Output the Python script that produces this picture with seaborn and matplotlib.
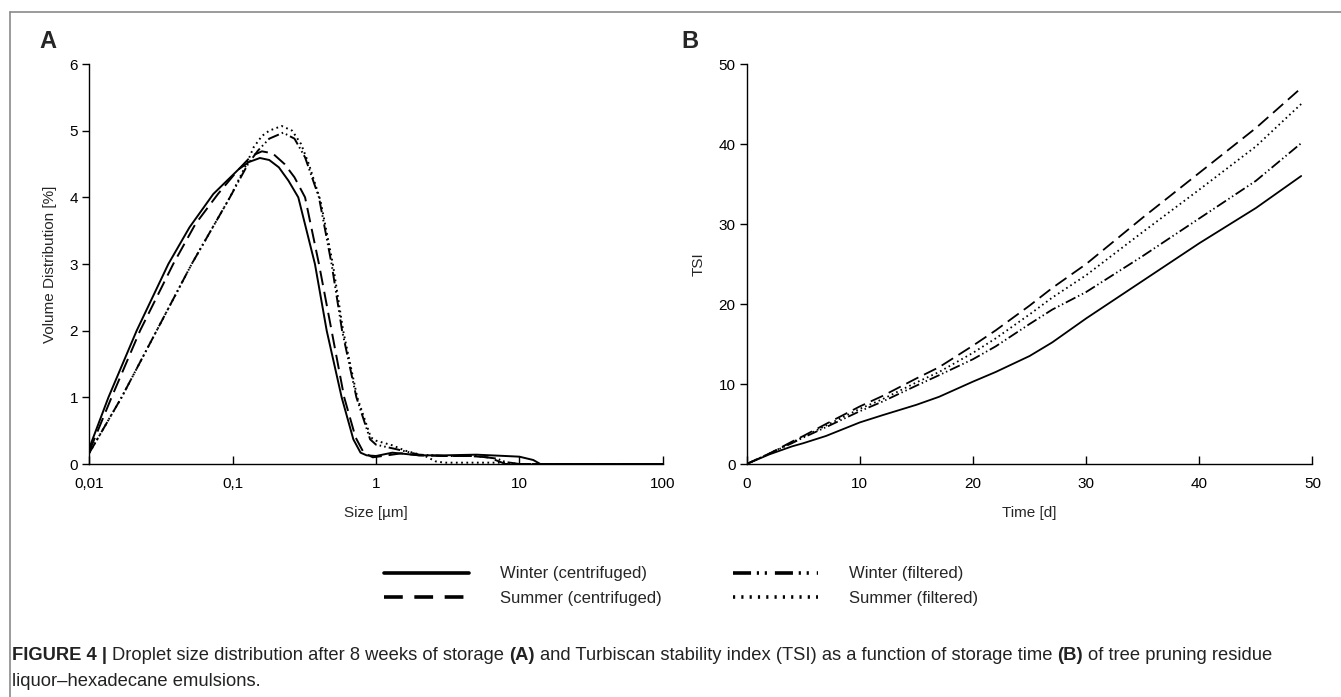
import matplotlib
matplotlib.use("Agg")
import numpy as np
import pandas as pd
import matplotlib.pyplot as plt
import seaborn as sns
from matplotlib.lines import Line2D
from matplotlib.ticker import FixedLocator, FixedFormatter, NullLocator

# ---------------- data ----------------
series_names = ["Winter (centrifuged)", "Summer (centrifuged)",
                "Winter (filtered)", "Summer (filtered)"]

# Panel A: droplet size distribution (x: size in µm, y: volume %)
wc_size = [0.01, 0.0136, 0.0214, 0.0356, 0.05, 0.0733, 0.11, 0.13, 0.155, 0.18, 0.21, 0.245,
           0.287, 0.375, 0.453, 0.576, 0.695, 0.78, 0.86, 1.0, 1.3, 2.0, 3.0, 5.0, 8.0, 10.0,
           12.5, 14.0, 20.0, 100.0]
wc_vol = [0.24, 1.0, 2.0, 3.0, 3.55, 4.05, 4.42, 4.53, 4.59, 4.56, 4.45, 4.25,
          4.0, 3.0, 2.0, 1.0, 0.37, 0.17, 0.13, 0.12, 0.17, 0.13, 0.13, 0.14, 0.12, 0.11,
          0.06, 0.0, 0.0, 0.0]

sc_size = [0.01, 0.0143, 0.0226, 0.0385, 0.055, 0.079, 0.11, 0.135, 0.16, 0.19, 0.23, 0.27,
           0.32, 0.40, 0.49, 0.60, 0.72, 0.82, 0.95, 1.2, 1.5, 2.0, 3.0, 4.5, 6.0, 7.0, 8.0,
           20.0, 100.0]
sc_vol = [0.19, 1.0, 2.0, 3.0, 3.6, 4.05, 4.42, 4.62, 4.69, 4.66, 4.5, 4.3,
          4.0, 3.0, 2.0, 1.0, 0.4, 0.17, 0.1, 0.13, 0.16, 0.13, 0.12, 0.12, 0.1, 0.05, 0.0,
          0.0, 0.0]

wf_size = [0.01, 0.0168, 0.0295, 0.0518, 0.0957, 0.128, 0.15, 0.18, 0.225, 0.27, 0.32, 0.40,
           0.49, 0.58, 0.73, 0.91, 1.0, 1.4, 2.0, 3.0, 5.0, 7.0, 8.0, 10.0, 20.0, 100.0]
wf_vol = [0.165, 1.0, 2.0, 3.0, 4.0, 4.5, 4.7, 4.88, 4.97, 4.88, 4.6, 4.0,
          3.0, 2.0, 1.0, 0.37, 0.29, 0.22, 0.14, 0.12, 0.12, 0.08, 0.03, 0.0, 0.0, 0.0]

sf_size = [0.01, 0.0168, 0.0295, 0.0518, 0.0957, 0.125, 0.14, 0.16, 0.18, 0.22, 0.26, 0.30,
           0.34, 0.41, 0.50, 0.59, 0.74, 0.92, 1.0, 1.3, 1.6, 2.2, 2.6, 3.0, 8.0, 10.0,
           20.0, 100.0]
sf_vol = [0.165, 1.0, 2.0, 3.0, 4.0, 4.5, 4.75, 4.92, 5.0, 5.07, 5.0, 4.8,
          4.5, 3.95, 3.0, 2.0, 1.0, 0.4, 0.35, 0.28, 0.2, 0.12, 0.04, 0.02, 0.02, 0.0,
          0.0, 0.0]

size_ticks = [0.01, 0.1, 1, 10, 100]
size_tick_labels = ["0,01", "0,1", "1", "10", "100"]
vol_ticks = [0, 1, 2, 3, 4, 5, 6]

# Panel B: TSI vs time
time_days = [0, 2, 4, 5, 7, 10, 12, 15, 17, 20, 22, 25, 27, 30, 35, 40, 45, 49]
tsi_wc = [0, 1.2, 2.2, 2.6, 3.5, 5.2, 6.1, 7.4, 8.4, 10.3, 11.5, 13.5, 15.2, 18.2, 22.9, 27.6, 32.0, 36.0]
tsi_sc = [0, 1.3, 2.8, 3.5, 5.0, 7.2, 8.5, 10.7, 12.1, 14.8, 16.7, 19.8, 22.0, 25.0, 30.8, 36.4, 42.0, 47.0]
tsi_wf = [0, 1.3, 2.6, 3.3, 4.6, 6.6, 7.8, 9.8, 11.1, 13.1, 14.7, 17.5, 19.3, 21.5, 26.0, 30.7, 35.4, 40.1]
tsi_sf = [0, 1.3, 2.7, 3.4, 4.8, 6.9, 8.1, 10.2, 11.5, 13.9, 15.7, 18.7, 20.8, 23.6, 29.0, 34.3, 39.7, 45.0]
time_ticks = [0, 10, 20, 30, 40, 50]
tsi_ticks = [0, 10, 20, 30, 40, 50]

# ---------------- styling ----------------
W, H = 1341, 697
sns.set_style("ticks")
plt.rcParams["font.family"] = ["Liberation Sans", "DejaVu Sans"]
plt.rcParams["axes.linewidth"] = 1.0

plot_styles = {
    "Winter (centrifuged)": "-",
    "Summer (centrifuged)": (0, (7.5, 3.5)),
    "Winter (filtered)": (0, (6, 1.6, 0.8, 1.6, 0.8, 1.6)),
    "Summer (filtered)": (0, (0.9, 1.8)),
}
legend_styles = {
    "Winter (centrifuged)": "-",
    "Summer (centrifuged)": (0, (5.2, 3.2)),
    "Winter (filtered)": (0, (5, 1.6, 0.6, 1.6, 0.6, 2.2)),
    "Summer (filtered)": (0, (0.6, 1.7)),
}

fig = plt.figure(figsize=(W / 100, H / 100), dpi=100)
axA = fig.add_axes([89.3 / W, 1 - 464 / H, 573.4 / W, 400 / H])
axB = fig.add_axes([746.7 / W, 1 - 464 / H, 565.8 / W, 400 / H])

dfA = {
    "Winter (centrifuged)": pd.DataFrame({"x": wc_size, "y": wc_vol}),
    "Summer (centrifuged)": pd.DataFrame({"x": sc_size, "y": sc_vol}),
    "Winter (filtered)": pd.DataFrame({"x": wf_size, "y": wf_vol}),
    "Summer (filtered)": pd.DataFrame({"x": sf_size, "y": sf_vol}),
}
dfB = {
    "Winter (centrifuged)": pd.DataFrame({"x": time_days, "y": tsi_wc}),
    "Summer (centrifuged)": pd.DataFrame({"x": time_days, "y": tsi_sc}),
    "Winter (filtered)": pd.DataFrame({"x": time_days, "y": tsi_wf}),
    "Summer (filtered)": pd.DataFrame({"x": time_days, "y": tsi_sf}),
}

axA.set_xscale("log")
for name in series_names:
    sns.lineplot(data=dfA[name], x="x", y="y", ax=axA, color="black", linewidth=1.4,
                 linestyle=plot_styles[name], estimator=None, sort=False, legend=False)
    sns.lineplot(data=dfB[name], x="x", y="y", ax=axB, color="black", linewidth=1.3,
                 linestyle=plot_styles[name], estimator=None, sort=False, legend=False)

axA.set_xlim(0.01, 100)
axA.set_ylim(0, 6)
axA.xaxis.set_major_locator(FixedLocator(size_ticks))
axA.xaxis.set_major_formatter(FixedFormatter(size_tick_labels))
axA.xaxis.set_minor_locator(NullLocator())
axA.set_yticks(vol_ticks)
axA.set_xlabel("Size [µm]", fontsize=11, labelpad=11)
axA.set_ylabel("Volume Distribution [%]", fontsize=11, labelpad=9)

axB.set_xlim(0, 50)
axB.set_ylim(0, 50)
axB.set_xticks(time_ticks)
axB.set_yticks(tsi_ticks)
axB.set_xlabel("Time [d]", fontsize=11, labelpad=11)
axB.set_ylabel("TSI", fontsize=11, labelpad=9)

for ax in (axA, axB):
    for s in ("top", "right"):
        ax.spines[s].set_visible(False)
    for s in ("left", "bottom"):
        ax.spines[s].set_color("black")
        ax.spines[s].set_linewidth(1.0)
    ax.tick_params(axis="y", direction="out", length=5, width=1, pad=3,
                   labelsize=11, colors="black")
    ax.tick_params(axis="x", direction="in", length=6, width=1, pad=9,
                   labelsize=11, colors="black")
    ax.set_facecolor("white")
    ax.grid(False)

# panel letters
fig.text(48 / W, 1 - 42 / H, "A", fontsize=17, fontweight="bold", ha="center", va="center")
fig.text(690 / W, 1 - 42 / H, "B", fontsize=17, fontweight="bold", ha="center", va="center")

# legend
handles = [Line2D([0], [0], color="black", lw=2.6, linestyle=legend_styles[n]) for n in series_names]
fig.legend(handles, series_names, ncol=2, loc="center", bbox_to_anchor=(681 / W, 1 - 586 / H),
           frameon=False, fontsize=12, handlelength=5.1, handletextpad=1.85,
           columnspacing=4.3, labelspacing=0.55)

# frame
frame_color = "#8a8a8a"
fig.add_artist(Line2D([9.5 / W, 9.5 / W], [1 - 12 / H, 0], transform=fig.transFigure,
                      color=frame_color, lw=1.2))
fig.add_artist(Line2D([9.5 / W, 1.0], [1 - 12 / H, 1 - 12 / H], transform=fig.transFigure,
                      color=frame_color, lw=1.2))

# caption (mixed bold / regular)
renderer = fig.canvas.get_renderer()
line1 = [("FIGURE 4 |", True), ("Droplet size distribution after 8 weeks of storage", False),
         ("(A)", True), ("and Turbiscan stability index (TSI) as a function of storage time", False),
         ("(B)", True), ("of tree pruning residue", False)]


def draw_rich(segments, x0, y0, size, measure_only=False):
    x = x0
    probe1 = fig.text(0, 0, "a a", fontsize=size)
    probe2 = fig.text(0, 0, "aa", fontsize=size)
    sp = probe1.get_window_extent(renderer).width - probe2.get_window_extent(renderer).width
    probe1.remove()
    probe2.remove()
    for i, (txt, bold) in enumerate(segments):
        t = fig.text(x / W, 1 - y0 / H, txt, fontsize=size,
                     fontweight="bold" if bold else "normal",
                     ha="left", va="center", color="#222222")
        x += t.get_window_extent(renderer).width
        if measure_only:
            t.remove()
        if i < len(segments) - 1:
            x += sp
    return x - x0


base = 12.0
wdt = draw_rich(line1, 12, 656, base, measure_only=True)
cap_size = base * (1263 / wdt)
draw_rich(line1, 12, 656, cap_size)
fig.text(12 / W, 1 - 681 / H, "liquor–hexadecane emulsions.", fontsize=cap_size,
         ha="left", va="center", color="#222222")

fig.savefig("out.png", dpi=100, facecolor="white")
